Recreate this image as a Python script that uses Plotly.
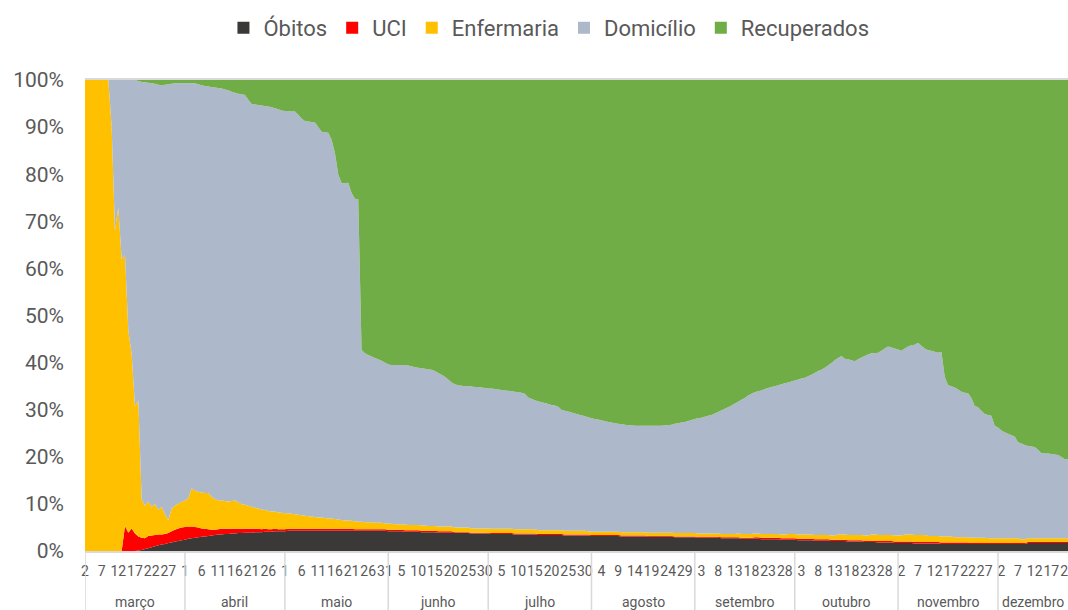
import pandas as pd
import plotly.graph_objects as go

# ---------------- data (percent of confirmed cases) ----------------
dates = pd.date_range("2020-03-02", "2020-12-22", freq="D")
month_names = ["março", "abril", "maio", "junho", "julho", "agosto",
               "setembro", "outubro", "novembro", "dezembro"]
y_tick_vals = [0, 10, 20, 30, 40, 50, 60, 70, 80, 90, 100]
y_tick_text = ["0%", "10%", "20%", "30%", "40%", "50%", "60%", "70%", "80%", "90%", "100%"]

obitos = [
    # março (2-31)
    0, 0, 0, 0, 0, 0, 0, 0, 0, 0, 0, 0, 0, 0, 0, 0,
    0.1, 0.2, 0.4, 0.6, 0.8, 1.0, 1.2, 1.4, 1.5, 1.7, 1.8, 2.0, 2.1, 2.3,
    # abril
    2.4, 2.6, 2.7, 2.8, 2.9, 3.0, 3.1, 3.2, 3.3, 3.4, 3.5, 3.5, 3.6, 3.6, 3.7,
    3.7, 3.8, 3.8, 3.9, 3.9, 3.9, 4.0, 4.0, 4.0, 4.1, 4.1, 4.1, 4.2, 4.2, 4.2,
    # maio
    4.2, 4.3, 4.3, 4.3, 4.3, 4.3, 4.3, 4.3, 4.3, 4.3, 4.3, 4.3, 4.3, 4.3, 4.3, 4.3,
    4.3, 4.3, 4.3, 4.3, 4.3, 4.3, 4.3, 4.3, 4.3, 4.3, 4.3, 4.3, 4.3, 4.3, 4.3,
    # junho
    4.2, 4.2, 4.2, 4.2, 4.2, 4.1, 4.1, 4.1, 4.1, 4.1, 4.0, 4.0, 4.0, 4.0, 4.0,
    3.9, 3.9, 3.9, 3.9, 3.9, 3.8, 3.8, 3.8, 3.8, 3.8, 3.7, 3.7, 3.7, 3.7, 3.7,
    # julho
    3.7, 3.6, 3.6, 3.6, 3.6, 3.6, 3.6, 3.6, 3.5, 3.5, 3.5, 3.5, 3.5, 3.5, 3.5, 3.4,
    3.4, 3.4, 3.4, 3.4, 3.4, 3.4, 3.4, 3.3, 3.3, 3.3, 3.3, 3.3, 3.3, 3.3, 3.3,
    # agosto
    3.2, 3.2, 3.2, 3.2, 3.2, 3.2, 3.2, 3.2, 3.2, 3.1, 3.1, 3.1, 3.1, 3.1, 3.1, 3.1,
    3.1, 3.0, 3.0, 3.0, 3.0, 3.0, 3.0, 3.0, 3.0, 2.9, 2.9, 2.9, 2.9, 2.9, 2.9,
    # setembro
    2.9, 2.8, 2.8, 2.8, 2.8, 2.8, 2.8, 2.8, 2.7, 2.7, 2.7, 2.7, 2.7, 2.7, 2.6,
    2.6, 2.6, 2.6, 2.6, 2.6, 2.5, 2.5, 2.5, 2.5, 2.5, 2.5, 2.4, 2.4, 2.4, 2.4,
    # outubro
    2.4, 2.3, 2.3, 2.3, 2.3, 2.3, 2.2, 2.2, 2.2, 2.2, 2.2, 2.1, 2.1, 2.1, 2.1, 2.1,
    2.0, 2.0, 2.0, 2.0, 2.0, 1.9, 1.9, 1.9, 1.9, 1.8, 1.8, 1.8, 1.8, 1.8, 1.7,
    # novembro
    1.7, 1.7, 1.7, 1.7, 1.7, 1.6, 1.6, 1.6, 1.6, 1.6, 1.6, 1.6, 1.6, 1.5, 1.5,
    1.5, 1.5, 1.5, 1.5, 1.5, 1.5, 1.5, 1.5, 1.5, 1.5, 1.5, 1.5, 1.5, 1.5, 1.5,
    # dezembro (1-22)
    1.5, 1.5, 1.5, 1.5, 1.5, 1.5, 1.5, 1.5, 1.5, 1.7, 1.7, 1.7, 1.7, 1.7, 1.7,
    1.7, 1.7, 1.7, 1.7, 1.7, 1.7, 1.7,
]

uci = [
    # março
    0, 0, 0, 0, 0, 0, 0, 0, 0, 0, 0, 0,
    5.3, 3.9, 4.8, 3.7, 3.0, 2.6, 2.3, 2.6, 2.5, 2.4, 2.3, 2.1, 2.1, 2.1, 2.4, 2.5, 2.7, 2.7,
    # abril
    2.7, 2.5, 2.4, 2.3, 2.1, 1.8, 1.6, 1.4, 1.2, 1.1, 1.1, 1.2, 1.1, 1.1, 1.0,
    1.0, 0.9, 0.9, 0.8, 0.8, 0.8, 0.7, 0.7, 0.6, 0.6, 0.5, 0.5, 0.5, 0.4, 0.4,
    # maio
    0.4, 0.4, 0.4, 0.4, 0.4, 0.4, 0.4, 0.4, 0.4, 0.4, 0.4, 0.4, 0.4, 0.4, 0.4, 0.4,
    0.4, 0.4, 0.4, 0.4, 0.4, 0.3, 0.3, 0.3, 0.3, 0.3, 0.3, 0.3, 0.3, 0.3, 0.3,
    # junho
    0.3, 0.3, 0.3, 0.3, 0.3, 0.3, 0.3, 0.3, 0.3, 0.3, 0.3, 0.3, 0.3, 0.3, 0.3,
    0.3, 0.3, 0.3, 0.3, 0.3, 0.2, 0.2, 0.2, 0.2, 0.2, 0.2, 0.2, 0.2, 0.2, 0.2,
    # julho
    0.2, 0.2, 0.2, 0.2, 0.2, 0.2, 0.2, 0.2, 0.2, 0.2, 0.2, 0.2, 0.2, 0.2, 0.2, 0.2,
    0.2, 0.2, 0.2, 0.2, 0.2, 0.2, 0.2, 0.2, 0.2, 0.2, 0.2, 0.2, 0.2, 0.2, 0.2,
    # agosto
    0.2, 0.2, 0.2, 0.2, 0.2, 0.2, 0.2, 0.2, 0.2, 0.2, 0.2, 0.2, 0.2, 0.2, 0.2, 0.2,
    0.2, 0.2, 0.2, 0.2, 0.2, 0.2, 0.2, 0.2, 0.2, 0.2, 0.2, 0.2, 0.2, 0.2, 0.2,
    # setembro
    0.2, 0.2, 0.2, 0.2, 0.2, 0.2, 0.2, 0.2, 0.2, 0.2, 0.2, 0.2, 0.2, 0.2, 0.2,
    0.2, 0.2, 0.2, 0.3, 0.3, 0.3, 0.3, 0.3, 0.3, 0.3, 0.3, 0.3, 0.3, 0.3, 0.3,
    # outubro
    0.3, 0.3, 0.3, 0.3, 0.3, 0.3, 0.3, 0.3, 0.3, 0.3, 0.3, 0.3, 0.3, 0.3, 0.3, 0.3,
    0.3, 0.3, 0.3, 0.3, 0.3, 0.3, 0.3, 0.3, 0.3, 0.3, 0.3, 0.3, 0.3, 0.3, 0.3,
    # novembro
    0.3, 0.3, 0.3, 0.3, 0.3, 0.3, 0.3, 0.3, 0.3, 0.3, 0.3, 0.3, 0.3, 0.3, 0.3,
    0.3, 0.3, 0.3, 0.3, 0.3, 0.3, 0.3, 0.2, 0.2, 0.2, 0.2, 0.2, 0.2, 0.2, 0.2,
    # dezembro
    0.2, 0.2, 0.2, 0.2, 0.2, 0.2, 0.2, 0.2, 0.2, 0.2, 0.2, 0.2, 0.2, 0.2, 0.2,
    0.2, 0.2, 0.2, 0.2, 0.2, 0.2, 0.2,
]

enfermaria = [
    # março
    100, 100, 100, 100, 100, 100, 100, 100,
    90, 68, 73, 62, 57.5, 42.9, 37, 27.1, 28.8,
    8.2, 6.9, 7.3, 6.1, 6.6, 5.2, 5.9, 4.2, 2.8, 4.8, 5.1, 5.3, 5.4,
    # abril
    5.6, 6.1, 8.2, 7.7, 7.6, 7.6, 7.6, 7.7, 7.0, 6.5, 6.2, 6.0, 5.9, 5.8, 5.9,
    6.0, 5.6, 5.3, 5.1, 4.9, 4.7, 4.5, 4.3, 4.2, 4.0, 3.9, 3.8, 3.7, 3.6, 3.5,
    # maio
    3.4, 3.3, 3.2, 3.1, 3.0, 2.9, 2.8, 2.7, 2.6, 2.5, 2.4, 2.4, 2.3, 2.2, 2.2, 2.1,
    2.0, 1.9, 1.8, 1.8, 1.7, 1.7, 1.6, 1.6, 1.5, 1.5, 1.5, 1.4, 1.4, 1.4, 1.3,
    # junho
    1.3, 1.3, 1.2, 1.2, 1.2, 1.2, 1.1, 1.1, 1.1, 1.1, 1.1, 1.1, 1.0, 1.0, 1.0,
    1.0, 1.0, 1.0, 1.0, 1.0, 1.0, 1.0, 1.0, 1.0, 1.0, 0.9, 0.9, 0.9, 0.9, 0.9,
    # julho
    0.9, 0.9, 0.9, 0.9, 0.9, 0.9, 0.9, 0.9, 0.9, 0.9, 0.9, 0.9, 0.9, 0.9, 0.9, 0.8,
    0.8, 0.8, 0.8, 0.8, 0.8, 0.8, 0.8, 0.8, 0.8, 0.8, 0.8, 0.8, 0.8, 0.8, 0.7,
    # agosto
    0.7, 0.7, 0.7, 0.7, 0.7, 0.7, 0.7, 0.7, 0.7, 0.7, 0.7, 0.7, 0.7, 0.7, 0.7, 0.7,
    0.7, 0.7, 0.7, 0.7, 0.7, 0.7, 0.7, 0.7, 0.7, 0.7, 0.7, 0.7, 0.7, 0.7, 0.7,
    # setembro
    0.7, 0.7, 0.7, 0.7, 0.7, 0.7, 0.7, 0.7, 0.7, 0.7, 0.7, 0.7, 0.7, 0.8, 0.8,
    0.8, 0.8, 0.8, 0.8, 0.8, 0.8, 0.8, 0.8, 0.8, 0.8, 0.8, 0.8, 0.8, 0.9, 0.9,
    # outubro
    0.9, 0.9, 0.9, 0.9, 0.9, 0.9, 0.9, 0.9, 0.9, 0.9, 0.9, 0.9, 0.9, 1.1, 1.1, 1.1,
    1.1, 1.1, 1.1, 1.1, 1.1, 1.1, 1.1, 1.3, 1.3, 1.3, 1.3, 1.3, 1.3, 1.3, 1.3,
    # novembro
    1.3, 1.3, 1.5, 1.5, 1.5, 1.5, 1.5, 1.5, 1.5, 1.3, 1.3, 1.3, 1.3, 1.3, 1.3,
    1.3, 1.3, 1.1, 1.1, 1.1, 1.1, 1.1, 1.1, 1.1, 1.1, 1.1, 1.1, 1.0, 1.0, 1.0,
    # dezembro
    1.0, 1.0, 1.0, 1.0, 1.0, 1.0, 1.0, 0.8, 0.8, 0.8, 0.8, 0.8, 0.8, 0.8, 0.8,
    0.8, 0.8, 0.8, 0.8, 0.8, 0.8, 0.8,
]

domicilio = [
    # março
    0, 0, 0, 0, 0, 0, 0, 0,
    10, 32, 27, 38, 37.2, 53.2, 58.2, 69.2, 67.9, 88.6, 89.9, 88.9, 89.9,
    89.2, 90.3, 89.5, 91.2, 92.5, 90.2, 89.7, 89.2, 88.9,
    # abril
    88.6, 88.1, 86.0, 86.5, 86.5, 86.5, 86.4, 86.3, 87.0, 87.4, 87.5, 87.5, 87.4, 87.3, 86.9,
    86.6, 86.8, 87.0, 87.0, 86.2, 85.5, 85.6, 85.7, 85.8, 85.8, 85.9, 85.8, 85.6, 85.6, 85.4,
    # maio
    85.4, 85.4, 85.4, 85.5, 84.9, 84.2, 83.8, 83.8, 83.8, 83.8, 82.9, 81.9, 81.9, 81.9, 80.4, 77.7,
    73.3, 71.5, 71.6, 71.7, 69.6, 68.5, 68.5, 36.5, 35.9, 35.5, 35.2, 35.0, 34.7, 34.4, 34.1,
    # junho
    33.8, 33.7, 33.8, 33.8, 33.8, 33.9, 33.9, 33.7, 33.5, 33.4, 33.4, 33.3, 33.3, 33.2, 32.9,
    32.6, 32.2, 31.8, 31.2, 30.6, 30.4, 30.2, 30.1, 30.0, 30.0, 30.1, 30.0, 30.0, 29.9, 29.8,
    # julho
    29.7, 29.8, 29.7, 29.6, 29.5, 29.4, 29.3, 29.2, 29.2, 29.1, 29.0, 28.8, 28.0, 27.7, 27.4, 27.4,
    27.2, 27.0, 26.8, 26.6, 26.5, 26.2, 25.6, 25.5, 25.3, 25.1, 24.9, 24.7, 24.5, 24.3, 24.2,
    # agosto
    24.1, 23.9, 23.8, 23.6, 23.5, 23.3, 23.2, 23.0, 22.9, 22.9, 22.8, 22.7, 22.7, 22.6, 22.6, 22.6,
    22.6, 22.7, 22.7, 22.7, 22.7, 22.7, 22.8, 22.8, 22.9, 23.2, 23.3, 23.5, 23.6, 23.8, 24.0,
    # setembro
    24.2, 24.5, 24.6, 24.8, 25.0, 25.2, 25.5, 25.8, 26.3, 26.6, 26.9, 27.3, 27.7, 28.0, 28.5,
    28.9, 29.4, 29.8, 30.0, 30.2, 30.5, 30.8, 31.0, 31.2, 31.4, 31.6, 31.9, 32.1, 32.2, 32.4,
    # outubro
    32.6, 32.9, 33.1, 33.3, 33.6, 33.9, 34.4, 34.8, 35.1, 35.5, 36.0, 36.6, 37.2, 37.5, 37.9, 37.3,
    37.3, 37.1, 36.9, 37.3, 37.7, 38.1, 38.4, 38.5, 38.5, 38.7, 39.1, 39.6, 40.0, 39.8, 39.7,
    # novembro
    39.5, 39.2, 39.5, 39.9, 40.2, 40.4, 40.8, 40.2, 39.6, 39.4, 39.3, 39.1, 38.9, 39.2, 33.9,
    32.1, 31.9, 31.8, 31.4, 30.9, 30.7, 30.6, 29.7, 28.0, 27.7, 27.0, 26.3, 26.2, 26.0, 23.9,
    # dezembro
    23.5, 22.9, 22.5, 22.2, 21.9, 21.6, 20.4, 20.3, 20.0, 19.6, 19.5, 19.4, 18.8, 18.1, 18.0,
    18.0, 17.9, 17.8, 17.7, 17.3, 16.8, 16.8,
]

recuperados = [
    # março
    0, 0, 0, 0, 0, 0, 0, 0, 0, 0, 0, 0, 0, 0, 0, 0,
    0.2, 0.4, 0.5, 0.6, 0.7, 0.8, 1.0, 1.1, 1.0, 0.9, 0.8, 0.7, 0.7, 0.7,
    # abril
    0.7, 0.7, 0.7, 0.7, 0.9, 1.1, 1.3, 1.4, 1.5, 1.6, 1.7, 1.8, 2.0, 2.2, 2.5,
    2.7, 2.9, 3.0, 3.2, 4.2, 5.1, 5.2, 5.3, 5.4, 5.5, 5.6, 5.8, 6.0, 6.2, 6.5,
    # maio
    6.6, 6.6, 6.7, 6.7, 7.4, 8.2, 8.7, 8.8, 8.9, 9.0, 10.0, 11.0, 11.1, 11.2, 12.7, 15.5,
    20.0, 21.9, 21.9, 21.8, 24.0, 25.2, 25.3, 57.3, 58.0, 58.4, 58.7, 59.0, 59.3, 59.6, 60.0,
    # junho
    60.4, 60.5, 60.5, 60.5, 60.5, 60.5, 60.6, 60.8, 61.0, 61.1, 61.2, 61.3, 61.4, 61.5, 61.8,
    62.2, 62.6, 63.0, 63.6, 64.2, 64.6, 64.8, 64.9, 65.0, 65.0, 65.1, 65.2, 65.2, 65.3, 65.4,
    # julho
    65.5, 65.5, 65.6, 65.7, 65.8, 65.9, 66.0, 66.1, 66.2, 66.3, 66.4, 66.6, 67.4, 67.7, 68.0, 68.2,
    68.4, 68.6, 68.8, 69.0, 69.1, 69.4, 70.0, 70.2, 70.4, 70.6, 70.8, 71.0, 71.2, 71.4, 71.6,
    # agosto
    71.8, 72.0, 72.1, 72.3, 72.4, 72.6, 72.7, 72.9, 73.0, 73.1, 73.2, 73.3, 73.3, 73.4, 73.4, 73.4,
    73.4, 73.4, 73.4, 73.4, 73.4, 73.4, 73.3, 73.3, 73.2, 73.0, 72.9, 72.7, 72.6, 72.4, 72.2,
    # setembro
    72.0, 71.8, 71.7, 71.5, 71.3, 71.1, 70.8, 70.5, 70.1, 69.8, 69.5, 69.1, 68.7, 68.3, 67.9,
    67.5, 67.0, 66.6, 66.3, 66.1, 65.9, 65.6, 65.4, 65.2, 65.0, 64.8, 64.6, 64.4, 64.2, 64.0,
    # outubro
    63.8, 63.6, 63.4, 63.2, 62.9, 62.6, 62.2, 61.8, 61.5, 61.1, 60.6, 60.1, 59.5, 59.0, 58.6, 59.2,
    59.3, 59.5, 59.7, 59.3, 58.9, 58.6, 58.3, 58.0, 58.0, 57.9, 57.5, 57.0, 56.6, 56.8, 57.0,
    # novembro
    57.2, 57.5, 57.0, 56.6, 56.3, 56.2, 55.8, 56.4, 57.0, 57.4, 57.5, 57.7, 57.9, 57.7, 63.0,
    64.8, 65.0, 65.3, 65.7, 66.2, 66.4, 66.5, 67.5, 69.2, 69.5, 70.2, 70.9, 71.1, 71.3, 73.4,
    # dezembro
    73.8, 74.4, 74.8, 75.1, 75.4, 75.7, 76.9, 77.2, 77.5, 77.7, 77.8, 77.9, 78.5, 79.2, 79.3,
    79.3, 79.4, 79.5, 79.6, 80.0, 80.5, 80.5,
]

series_names = ["Óbitos", "UCI", "Enfermaria", "Domicílio", "Recuperados"]
series_values = [obitos, uci, enfermaria, domicilio, recuperados]
series_colors = ["#3B3838", "#FF0000", "#FFC000", "#ADB9CA", "#70AD47"]

for v in series_values:
    assert len(v) == len(dates), len(v)

# ---------------- axis helpers ----------------
x = list(range(len(dates)))
tick_vals = [i for i in x if i % 5 == 0]
tick_text = [str(dates[i].day) for i in tick_vals]
month_starts = [0] + [i for i in x if dates[i].day == 1]
month_ends = month_starts[1:] + [x[-1]]

FONT = "Roboto, 'Noto Sans', sans-serif"
GREY_TXT = "#595959"
GREY_LINE = "#D9D9D9"

W, H = 1068, 610
M_L, M_R, M_T, M_B = 85, 0, 80, 59
plot_h = H - M_T - M_B

fig = go.Figure()
for k, (name, vals, color) in enumerate(zip(series_names, series_values, series_colors)):
    fig.add_trace(go.Scatter(
        x=x, y=vals, name=name, stackgroup="covid",
        groupnorm="percent" if k == 0 else None,
        mode="none", fillcolor=color, line=dict(width=0),
        showlegend=False, hoverinfo="skip", legendgroup=name,
    ))
# legend swatches (small squares like the original)
for name, color in zip(series_names, series_colors):
    fig.add_trace(go.Scatter(
        x=[None], y=[None], mode="markers", name=name, legendgroup=name,
        marker=dict(symbol="square", size=12, color=color),
    ))

shapes = []
for s in month_starts:
    shapes.append(dict(type="line", xref="x", yref="paper", x0=s, x1=s,
                       y0=0, y1=-M_B / plot_h, line=dict(color=GREY_LINE, width=1.5)))
annotations = []
for name, s, e in zip(month_names, month_starts, month_ends):
    annotations.append(dict(xref="x", yref="paper", x=(s + e) / 2, y=-51 / plot_h,
                            text=name, showarrow=False, yanchor="middle",
                            font=dict(family=FONT, size=14, color=GREY_TXT)))

fig.update_layout(
    width=W, height=H,
    margin=dict(l=M_L, r=M_R, t=M_T, b=M_B, autoexpand=False),
    paper_bgcolor="white", plot_bgcolor="white",
    font=dict(family=FONT, color=GREY_TXT),
    showlegend=True,
    legend=dict(orientation="h", xref="container", yref="container",
                x=0.514, xanchor="center", y=1 - 28 / H, yanchor="middle",
                font=dict(family=FONT, size=22, color=GREY_TXT),
                itemwidth=30, tracegroupgap=0, bgcolor="rgba(0,0,0,0)"),
    xaxis=dict(range=[0, x[-1]], tickmode="array", tickvals=tick_vals, ticktext=tick_text,
               tickangle=0, ticks="", showgrid=False, zeroline=False, automargin=False,
               showline=True, linecolor=GREY_LINE, linewidth=1.5, mirror=True,
               tickfont=dict(family=FONT, size=14, color=GREY_TXT),
               ticklabelstandoff=6, ticklabeloverflow="allow"),
    yaxis=dict(range=[0, 100], tickmode="array", tickvals=y_tick_vals, ticktext=y_tick_text,
               showgrid=True, gridcolor=GREY_LINE, zeroline=False, automargin=False,
               ticks="", showline=False,
               tickfont=dict(family=FONT, size=21, color=GREY_TXT),
               ticklabelstandoff=20),
    shapes=shapes, annotations=annotations,
)

# remove the default 8px page margin so the 1068x610 figure fills the window exactly
fig.write_html("out.html",
               config={"displayModeBar": False},
               post_script="document.body.style.margin='0';document.body.style.overflow='hidden';")
